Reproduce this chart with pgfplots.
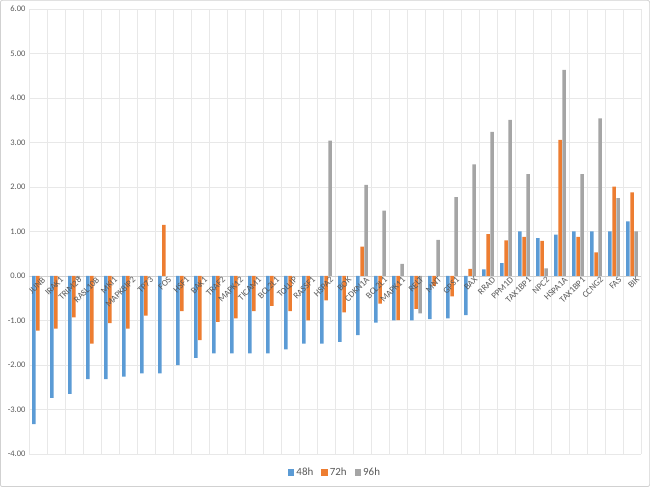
\documentclass[border=0pt]{standalone}
\usepackage{pgfplots}
\usepackage{pgfplotstable}
\pgfplotsset{compat=1.18}
\usepackage{fontspec}
\setmainfont{Carlito}
\definecolor{cblue}{HTML}{5B9BD5}
\definecolor{corange}{HTML}{ED7D31}
\definecolor{cgray}{HTML}{A5A5A5}
\definecolor{ctext}{HTML}{595959}
\definecolor{cgrid}{HTML}{E8E8E8}
\pgfplotsset{
  base/.style={
    at={(29bp,33bp)}, anchor=south west,
    scale only axis, width=612bp, height=445bp,
    xmin=-0.5, xmax=33.5, ymin=-4, ymax=6,
    axis x line=middle, axis y line=left,
    every inner x axis line/.append style={-},
    y axis line style={draw=none},
    major tick length=0, minor tick length=0,
    xtick={0,...,33},
  }
}
\pgfplotstableread{
x a b c
0 -3.33 -1.23 nan
1 -2.74 -1.18 nan
2 -2.65 -0.93 -0.05
3 -2.32 -1.52 nan
4 -2.32 -1.06 nan
5 -2.26 -1.18 nan
6 -2.19 -0.89 nan
7 -2.19 1.15 nan
8 -2.00 -0.79 nan
9 -1.84 -1.44 nan
10 -1.74 -1.03 nan
11 -1.74 -0.95 nan
12 -1.74 -0.79 nan
13 -1.74 -0.67 nan
14 -1.65 -0.79 nan
15 -1.52 -1.00 nan
16 -1.52 -0.55 3.04
17 -1.48 -0.82 nan
18 -1.33 0.66 2.05
19 -1.05 -0.62 1.47
20 -1.00 -0.99 0.27
21 -1.00 -0.74 -0.84
22 -0.97 -0.22 0.81
23 -0.95 -0.46 1.77
24 -0.88 0.16 2.51
25 0.15 0.94 3.24
26 0.29 0.80 3.51
27 1.00 0.88 2.29
28 0.85 0.79 0.17
29 0.93 3.06 4.63
30 1.00 0.88 2.29
31 1.00 0.53 3.54
32 1.00 2.01 1.75
33 1.23 1.88 1.00
}\data
\begin{document}
\begin{tikzpicture}
\begin{axis}[
  base,
  ybar=0.6bp, bar width=3.5bp,
  x axis line style={draw=black!18, -},
  xticklabels={},
  minor xtick={-0.5,0.5,...,33.5},
  xminorgrids=true, ymajorgrids=true,
  major grid style={cgrid, line width=0.6bp},
  minor grid style={cgrid, line width=0.6bp},
  ytick={-4,-3,...,6},
  yticklabel style={font=\fontsize{8.5}{9}\selectfont, text=ctext},
  /pgf/number format/assume math mode=true,
  /pgf/number format/.cd, fixed, fixed zerofill, precision=2, /pgfplots/.cd,
  legend style={at={(0.5,-0.042)}, anchor=center, legend columns=3, draw=none, fill=none,
    font=\fontsize{11}{12}\selectfont, text=ctext,
    /tikz/every even column/.append style={column sep=6bp}},
  legend image code/.code={\fill[#1] (0bp,-3.2bp) rectangle (6.5bp,3.3bp);},
]
\addplot[fill=cblue, draw=none] table[x=x,y=a]{\data};
\addplot[fill=corange, draw=none] table[x=x,y=b]{\data};
\addplot[fill=cgray, draw=none] table[x=x,y=c]{\data};
\legend{48h,72h,96h}
\end{axis}
\begin{axis}[
  base,
  x axis line style={draw=none},
  ytick=\empty,
  xticklabels={JUNB,IRAK1,TRIM28,RASL10B,MKI1,MAPK8IP2,TP73,FOS,HSF1,BAK1,TRAF2,MAPK12,TICAM1,BCL2L1,TOLLIP,RASSF1,HSPA2,BOK,CDKN1A,BCL2L1,MAPK11,RELT,MNT,GPS1,BAX,RRAD,PPM1D,TAX1BP1,NPC2,HSPA1A,TAX1BP1,CCNG2,FAS,BIK},
  x tick label style={rotate=45, anchor=east, font=\fontsize{9}{10}\selectfont, text=ctext, inner sep=0.5bp, xshift=3bp, yshift=-6bp},
]
\end{axis}
\draw[black!18, line width=0.75bp, rounded corners=2bp] (0.4bp,0.4bp) rectangle (649.6bp,486.6bp);
\end{tikzpicture}
\end{document}
